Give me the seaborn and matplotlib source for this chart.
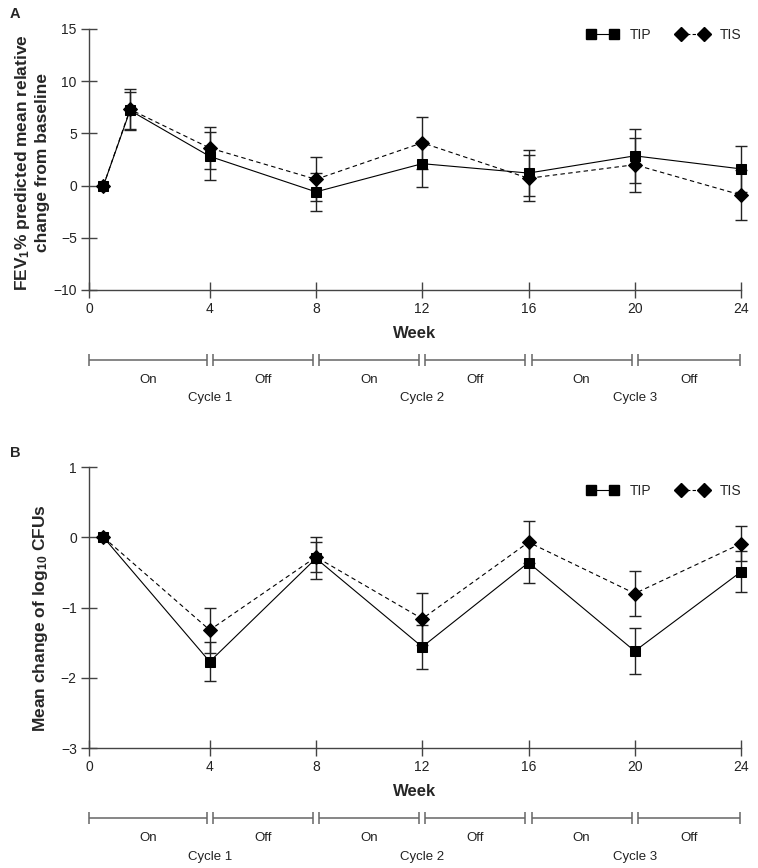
import numpy as np
import pandas as pd
import seaborn as sns
import matplotlib.pyplot as plt
from matplotlib.lines import Line2D

# visit weeks
weeks_fev = [0, 1, 4, 8, 12, 16, 20, 24]
weeks_cfu = [0, 4, 8, 12, 16, 20, 24]

# panel A: FEV1 % predicted, mean relative change from baseline (+/- error)
fev_tip = [0, 7.2, 2.8, -0.6, 2.1, 1.2, 2.85, 1.6]
fev_tip_err = [0, 1.8, 2.3, 1.8, 2.2, 2.2, 2.6, 2.2]
fev_tis = [0, 7.3, 3.6, 0.6, 4.1, 0.7, 2.0, -0.9]
fev_tis_err = [0, 2.0, 2.0, 2.1, 2.5, 2.2, 2.6, 2.4]

# panel B: mean change of log10 CFUs (+/- error)
cfu_tip = [0, -1.77, -0.30, -1.56, -0.36, -1.62, -0.49]
cfu_tip_err = [0, 0.28, 0.30, 0.31, 0.29, 0.33, 0.29]
cfu_tis = [0, -1.32, -0.28, -1.16, -0.07, -0.80, -0.09]
cfu_tis_err = [0, 0.32, 0.22, 0.37, 0.30, 0.32, 0.25]

tick_weeks = [0, 4, 8, 12, 16, 20, 24]
phase_labels = ["On", "Off", "On", "Off", "On", "Off"]
cycle_labels = ["Cycle 1", "Cycle 2", "Cycle 3"]

sns.set_style("ticks")
plt.rcParams["font.family"] = ["Liberation Sans", "DejaVu Sans"]
plt.rcParams["mathtext.default"] = "regular"

X_LEFT = -0.545   # the "0" tick sits at the axis origin, a bit left of week 0
AXIS_COL = "#444444"


def draw_panel(ax, weeks, tip, tip_err, tis, tis_err):
    n = len(weeks)
    df = pd.DataFrame({
        "week": weeks + weeks,
        "value": tip + tis,
        "group": ["TIP"] * n + ["TIS"] * n,
    })
    for vals, errs in ((tip, tip_err), (tis, tis_err)):
        ax.errorbar(weeks, vals, yerr=errs, fmt="none", ecolor="#222222",
                    elinewidth=1, capsize=4, capthick=1, clip_on=False, zorder=2)
    sns.lineplot(data=df, x="week", y="value", hue="group", style="group",
                 palette={"TIP": "black", "TIS": "black"},
                 markers={"TIP": "s", "TIS": "D"},
                 dashes={"TIP": "", "TIS": (4, 3)},
                 markersize=7, markeredgecolor="black", linewidth=0.8,
                 legend=False, clip_on=False, zorder=3, ax=ax)

    ax.set_xlim(X_LEFT, 24)
    ax.set_xticks([X_LEFT] + tick_weeks[1:])
    ax.set_xticklabels([str(w) for w in tick_weeks])
    ax.set_xlabel("Week", fontsize=12, fontweight="bold", labelpad=7)
    sns.despine(ax=ax)
    for s in ("left", "bottom"):
        ax.spines[s].set_color(AXIS_COL)
        ax.spines[s].set_linewidth(1)
    ax.tick_params(direction="inout", length=11.5, width=1, color=AXIS_COL,
                   labelcolor="#222222", labelsize=10, pad=3)

    handles = [
        Line2D([], [], color="black", marker="s", markersize=7, lw=0.8, ls="-"),
        Line2D([], [], color="black", marker="D", markersize=7, lw=0.8, ls=(0, (3, 2))),
    ]
    ax.legend(handles, ["TIP", "TIS"], ncol=2, numpoints=2, frameon=False,
              fontsize=10, handlelength=2.3, handletextpad=0.8, columnspacing=1.8,
              loc="center right", bbox_to_anchor=(1.0, 0.0), borderpad=0,
              borderaxespad=0)


def draw_timeline(ax):
    ax.set_xlim(X_LEFT, 24)
    ax.set_ylim(0, 1)
    ax.axis("off")
    gap = 0.12
    for i, lab in enumerate(phase_labels):
        a = X_LEFT if i == 0 else tick_weeks[i] + gap
        b = tick_weeks[i + 1] - (gap if i < len(phase_labels) - 1 else 0.04)
        ax.errorbar((a + b) / 2, 0.84, xerr=(b - a) / 2, fmt="none",
                    ecolor="#666666", elinewidth=1.1, capsize=4.3, capthick=1.1,
                    clip_on=False)
        ax.text((a + b) / 2, 0.44, lab, ha="center", va="center", fontsize=9.5,
                color="#222222")
    for j, lab in enumerate(cycle_labels):
        ax.text(tick_weeks[2 * j + 1], 0.07, lab, ha="center", va="center",
                fontsize=9.5, color="#222222")


fig = plt.figure(figsize=(7.58, 8.68), dpi=100)

axA = fig.add_axes([0.1174, 0.6659, 0.8602, 0.3007])
draw_panel(axA, weeks_fev, fev_tip, fev_tip_err, fev_tis, fev_tis_err)
axA.set_ylim(-10, 15)
axA.set_yticks([-10, -5, 0, 5, 10, 15])
axA.set_ylabel("FEV$_1$% predicted mean relative\nchange from baseline",
               fontsize=12.5, fontweight="bold")
axA.yaxis.set_label_coords(-0.06, 0.487)
axA.get_legend().set_bbox_to_anchor((1.0, 0.977))
tlA = fig.add_axes([0.1174, 0.5369, 0.8602, 0.0576])
draw_timeline(tlA)

axB = fig.add_axes([0.1174, 0.1382, 0.8602, 0.3237])
draw_panel(axB, weeks_cfu, cfu_tip, cfu_tip_err, cfu_tis, cfu_tis_err)
axB.set_ylim(-3, 1)
axB.set_yticks([-3, -2, -1, 0, 1])
axB.set_ylabel("Mean change of log$_{10}$ CFUs", fontsize=12.5, fontweight="bold")
axB.yaxis.set_label_coords(-0.06, 0.463)
axB.get_legend().set_bbox_to_anchor((1.0, 0.915))
tlB = fig.add_axes([0.1174, 0.0092, 0.8602, 0.0576])
draw_timeline(tlB)

fig.text(0.013, 0.984, "A", fontsize=10.5, fontweight="bold", va="center")
fig.text(0.013, 0.478, "B", fontsize=10.5, fontweight="bold", va="center")

fig.savefig("out.png", dpi=100)
